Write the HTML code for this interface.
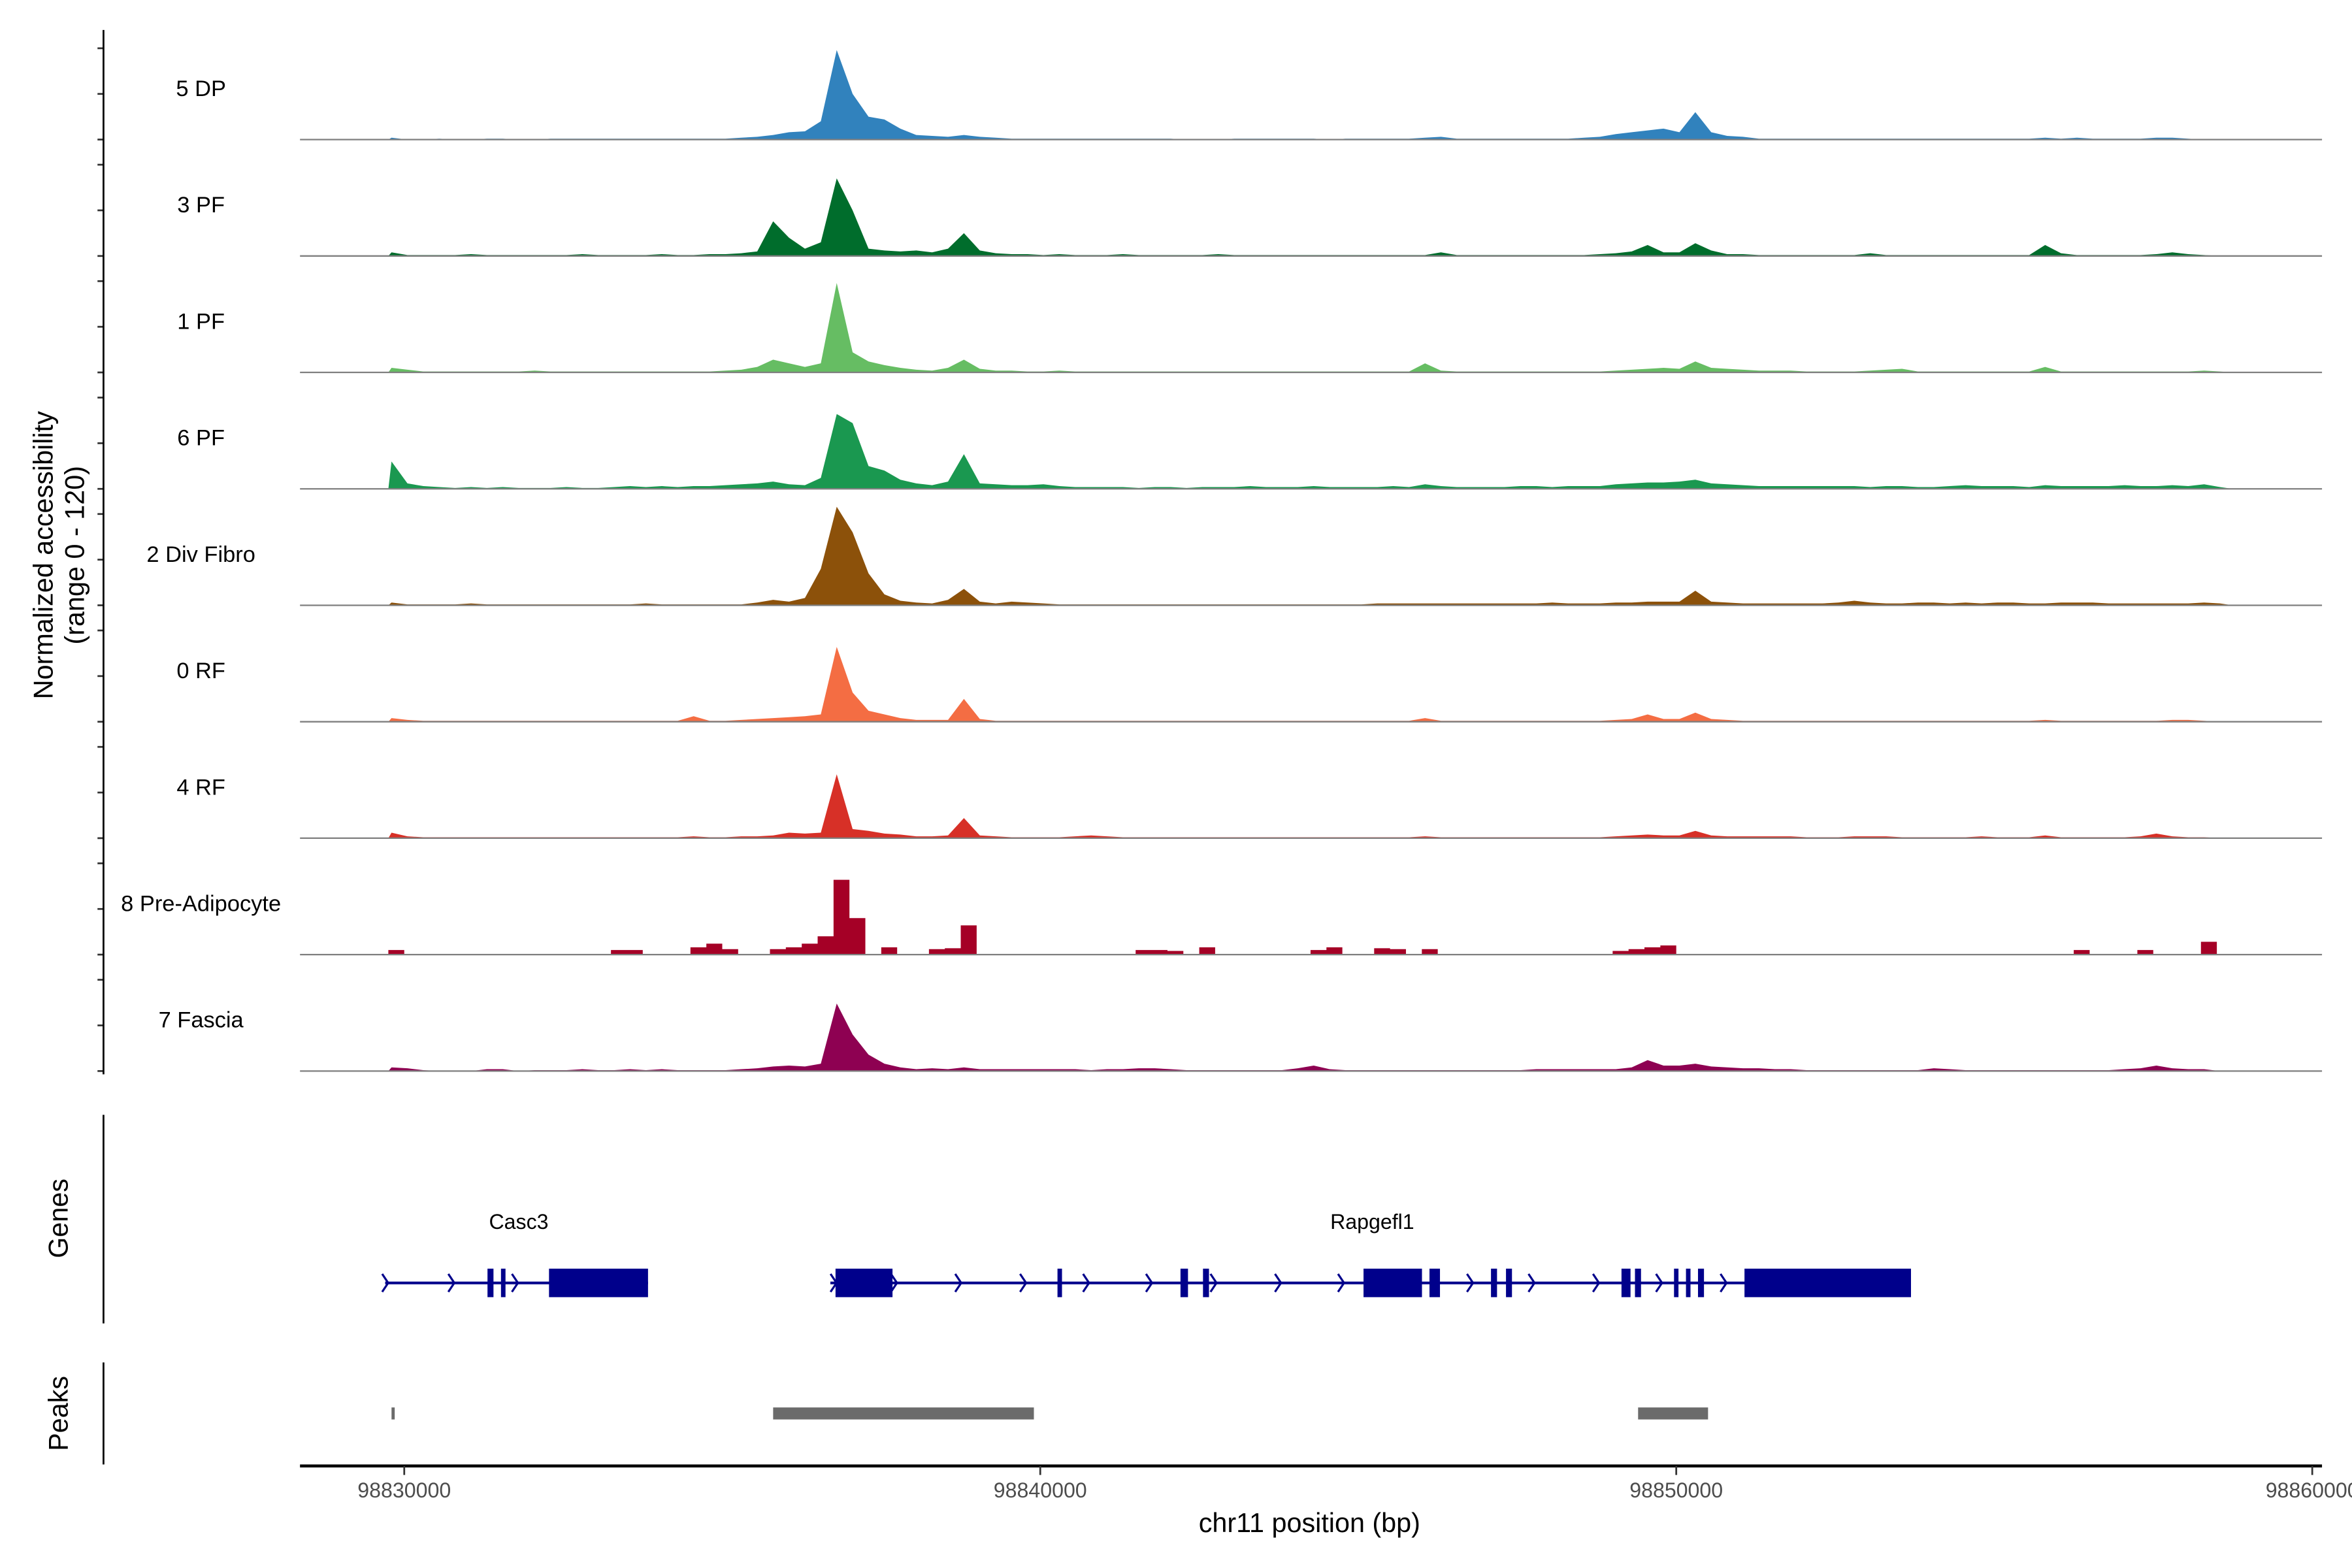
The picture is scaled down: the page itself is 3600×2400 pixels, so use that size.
<!DOCTYPE html>
<html><head><meta charset="utf-8"><style>
html,body{margin:0;padding:0;background:#fff;}
svg{display:block;font-family:"Liberation Sans",Arial,sans-serif;}
</style></head><body>
<svg id="chart" width="3600" height="2400" viewBox="0 0 1568 1045" preserveAspectRatio="none" xmlns="http://www.w3.org/2000/svg">
<rect width="1568" height="1045" fill="#fff"/>
<g id="tracks"></g>
<g id="yaxis"></g>
<text transform="translate(35,370) rotate(-90)" text-anchor="middle" font-size="18">Normalized accessibility</text>
<text transform="translate(56,370) rotate(-90)" text-anchor="middle" font-size="18">(range 0 - 120)</text>
<g id="genes"></g>
<line x1="69" y1="743" x2="69" y2="882" stroke="#000" stroke-width="1.2"/>
<text transform="translate(45,812) rotate(-90)" text-anchor="middle" font-size="18">Genes</text>
<g id="peaks"></g>
<line x1="69" y1="908" x2="69" y2="976" stroke="#000" stroke-width="1.2"/>
<text transform="translate(45,942) rotate(-90)" text-anchor="middle" font-size="18">Peaks</text>
<g id="xaxis"></g>
<text x="873" y="1021" text-anchor="middle" font-size="18">chr11 position (bp)</text>
</svg>
<script>
const trackNames = ["5 DP","3 PF","1 PF","6 PF","2 Div Fibro","0 RF","4 RF","8 Pre-Adipocyte","7 Fascia"];
const trackColors = ["#3182bd","#006d2c","#66bd63","#1a9850","#8c510a","#f46d43","#d73027","#a50026","#8e0152"];
const binStart = 98829750;
const binSize = 250;
const dp5 = [2,0,0,1,0,0,1,1,0,0, 1,1,1,1,1,1,1,1,1,1, 1,1,2,3,5,8,9,20,98,50, 25,22,12,5,4,3,5,3,2,1, 1,1,1,1,1,1,1,1,1,1, 0,0,0,1,1,1,1,1,1,0, 1,1,1,1,1,2,3,1,1,1, 1,1,1,1,1,2,3,6,8,10, 12,8,30,8,4,3,1,1,1,1, 1,1,1,1,1,1,1,1,1,1, 1,1,1,1,2,1,2,1,1,1, 1,2,2,1,0,0];
const pf3 = [4,1,1,1,1,2,1,1,1,1, 1,1,2,1,1,1,1,2,1,1, 2,2,3,5,38,20,8,15,85,50, 8,6,5,6,4,8,25,6,3,2, 2,1,2,1,1,1,2,1,1,1, 1,1,2,1,1,1,1,1,1,1, 1,1,1,1,1,1,4,1,1,1, 1,1,1,1,1,1,2,3,5,12, 4,4,14,6,2,2,1,1,1,1, 1,1,1,3,1,1,1,1,1,1, 1,1,1,1,12,3,1,1,1,1, 1,2,4,2,1,0];
const pf1 = [5,3,1,1,1,1,1,1,1,2, 1,1,1,1,1,1,1,1,1,1, 1,2,3,6,14,10,6,10,98,22, 12,8,5,3,2,5,14,4,2,2, 1,1,2,1,1,1,1,1,1,1, 1,1,1,1,1,1,1,1,1,1, 1,1,1,1,1,10,2,1,1,1, 1,1,1,1,1,1,1,2,3,4, 5,4,12,5,4,3,2,2,2,1, 1,1,1,2,3,4,1,1,1,1, 1,1,1,1,6,1,1,1,1,1, 1,1,1,1,2,1];
const pf6 = [30,6,3,2,1,2,1,2,1,1, 1,2,1,1,2,3,2,3,2,3, 3,4,5,6,8,5,4,12,82,72, 25,20,10,6,4,8,38,6,5,4, 4,5,3,2,2,2,2,1,2,2, 1,2,2,2,3,2,2,2,3,2, 2,2,2,3,2,5,3,2,2,2, 2,3,3,2,3,3,3,5,6,7, 7,8,10,6,5,4,3,3,3,3, 3,3,3,2,3,3,2,2,3,4, 3,3,3,2,4,3,3,3,3,4, 3,3,4,3,5,2];
const divFibro2 = [3,1,1,1,1,2,1,1,1,1, 1,1,1,1,1,1,2,1,1,1, 1,1,1,3,6,4,8,40,108,80, 35,12,5,3,2,6,18,4,2,4, 3,2,1,1,1,1,1,1,1,1, 1,1,1,1,1,1,1,1,1,1, 1,1,2,2,2,2,2,2,2,2, 2,2,2,3,2,2,2,3,3,4, 4,4,16,4,3,2,2,2,2,2, 2,3,5,3,2,2,3,3,2,3, 2,3,3,2,2,3,3,3,2,2, 2,2,2,2,3,2];
const rf0 = [4,2,1,1,1,1,1,1,1,1, 1,1,1,1,1,1,1,1,1,6, 1,1,2,3,4,5,6,8,82,32, 12,8,4,2,2,2,25,3,1,1, 1,1,1,1,1,1,1,1,1,1, 1,1,1,1,1,1,1,1,1,1, 1,1,1,1,1,4,1,1,1,1, 1,1,1,1,1,1,1,2,3,8, 3,3,10,3,2,1,1,1,1,1, 1,1,1,1,1,1,1,1,1,1, 1,1,1,1,2,1,1,1,1,1, 1,1,2,2,1,0];
const rf4 = [6,2,1,1,1,1,1,1,1,1, 1,1,1,1,1,1,1,1,1,2, 1,1,2,2,3,6,5,6,70,10, 8,5,4,2,2,3,22,3,2,1, 1,1,1,2,3,2,1,1,1,1, 1,1,1,1,1,1,1,1,1,1, 1,1,1,1,1,2,1,1,1,1, 1,1,1,1,1,1,1,2,3,4, 3,3,8,3,2,2,2,2,2,1, 1,1,2,2,2,1,1,1,1,1, 2,1,1,1,3,1,1,1,1,1, 2,5,2,1,1,0];
const preAdipocyte8 = [5,0,0,0,0,0,0,0,0,0, 0,0,0,0,5,5,0,0,0,8, 12,6,0,0,6,8,12,20,82,40, 0,8,0,0,6,7,32,0,0,0, 0,0,0,0,0,0,0,5,5,4, 0,8,0,0,0,0,0,0,5,8, 0,0,7,6,0,6,0,0,0,0, 0,0,0,0,0,0,0,4,6,8, 10,0,0,0,0,0,0,0,0,0, 0,0,0,0,0,0,0,0,0,0, 0,0,0,0,0,0,5,0,0,0, 5,0,0,0,14,0];
const fascia7 = [4,3,1,0,0,0,2,2,0,1, 1,1,2,1,1,2,1,2,1,1, 1,1,2,3,5,6,5,8,74,40, 18,8,4,2,3,2,4,2,2,2, 2,2,2,2,1,2,2,3,3,2, 1,1,1,1,1,1,1,3,6,2, 1,1,1,1,1,1,1,1,1,1, 1,1,2,2,2,2,2,2,4,12, 6,6,8,5,4,3,3,2,2,1, 1,1,1,1,1,1,1,3,2,1, 1,1,1,1,1,1,1,1,1,2, 3,6,3,2,2,0];
const trackValues = [dp5,pf3,pf1,pf6,divFibro2,rf0,rf4,preAdipocyte8,fascia7];
const xTicks = [98830000,98840000,98850000,98860000];
const xTickLabels = ["98830000","98840000","98850000","98860000"];
const yTicks = [0,50,100];
const peakStarts = [98829800,98835800,98849400];
const peakEnds = [98829850,98839900,98850500];
const geneNames = ["Casc3","Rapgefl1"];
const geneStarts = [98829700,98836700];
const geneEnds = [98833833,98853691];
const geneLabelPos = [98831800,98845220];
const exonStarts = [98831309,98831521,98832276,98836781,98840271,98842205,98842559,98845083,98846120,98847087,98847323,98849139,98849351,98849965,98850153,98850342,98851073];
const exonEnds = [98831403,98831592,98833833,98837677,98840342,98842323,98842653,98846002,98846285,98847182,98847417,98849281,98849446,98850035,98850224,98850436,98853691];
const arrowPos = [98829700,98830740,98831740,98836750,98837700,98838710,98839730,98840720,98841710,98842724,98843738,98844729,98846757,98847724,98848738,98849729,98850743];

const SVGNS="http://www.w3.org/2000/svg";
function X(bp){return 269.5+(bp-98830000)*0.0424;}
const unitPx = 73/120;
function base(i){return 93+77.6*i;}
function mk(tag,attrs,parent){const e=document.createElementNS(SVGNS,tag);for(const k in attrs)e.setAttribute(k,attrs[k]);parent.appendChild(e);return e;}

const tg=document.getElementById('tracks');
const ya=document.getElementById('yaxis');
trackNames.forEach((nm,i)=>{
  const b=base(i);
  const vals=trackValues[i];
  const stepped = (i===7);
  let d="M"+X(binStart).toFixed(2)+","+b;
  vals.forEach((v,j)=>{
    const y=b-v*unitPx;
    if(stepped){
      const x0=X(binStart+j*binSize), x1=X(binStart+(j+1)*binSize);
      d+=" L"+x0.toFixed(2)+","+y.toFixed(2)+" L"+x1.toFixed(2)+","+y.toFixed(2);
    } else {
      const xc=X(binStart+(j+0.2)*binSize);
      d+=" L"+xc.toFixed(2)+","+y.toFixed(2);
    }
  });
  d+=" L"+X(binStart+vals.length*binSize).toFixed(2)+","+b+" Z";
  const p=mk('path',{d:d,fill:trackColors[i]},tg);
  
  
  const bl=mk('line',{x1:200,y1:b,x2:1548,y2:b,stroke:'#7f7f7f','stroke-width':1},tg);
  
  
  const t=mk('text',{x:134,y:(b-29).toFixed(1),'text-anchor':'middle','font-size':15},tg);
  t.textContent=nm;
  
  
  yTicks.forEach(v=>{
    const y=b-v*unitPx;
    const tk=mk('line',{x1:65,y1:y,x2:69,y2:y,stroke:'#333','stroke-width':1.2},ya);
    
    
  });
});
const yl=mk('line',{x1:69,y1:20,x2:69,y2:716,stroke:'#000','stroke-width':1.2},ya);



const gg=document.getElementById('genes');
geneNames.forEach((g,i)=>{
  const l=mk('line',{x1:X(geneStarts[i]),y1:855,x2:X(geneEnds[i]),y2:855,stroke:'#00008b','stroke-width':1.8},gg);
  
  
  const t=mk('text',{x:X(geneLabelPos[i]),y:819,'text-anchor':'middle','font-size':14},gg);
  t.textContent=g;
  
  
});
arrowPos.forEach(a=>{
  const x=X(a);
  const p=mk('path',{d:`M${x-2},849 L${x+2},855 L${x-2},861`,fill:'none',stroke:'#00008b','stroke-width':1.4},gg);
  
  
});
exonStarts.forEach((s,i)=>{
  const x0=X(s),x1=X(exonEnds[i]);
  const r=mk('rect',{x:x0,y:845.5,width:Math.max(1.5,x1-x0),height:19,fill:'#00008b'},gg);
  
  
});

const pg=document.getElementById('peaks');
peakStarts.forEach((s,i)=>{
  const x0=X(s),x1=X(peakEnds[i]);
  const r=mk('rect',{x:x0,y:938,width:Math.max(2,x1-x0),height:8,fill:'#6b6b6b'},pg);
  
  
});

const xa=document.getElementById('xaxis');
const xl=mk('line',{x1:200,y1:977,x2:1548,y2:977,stroke:'#000','stroke-width':2},xa);


xTicks.forEach((t,i)=>{
  const x=X(t);
  const tk=mk('line',{x1:x,y1:977,x2:x,y2:983,stroke:'#333','stroke-width':1.2},xa);
  
  
  const lb=mk('text',{x:x,y:998,'text-anchor':'middle','font-size':14,fill:'#4d4d4d'},xa);
  lb.textContent=xTickLabels[i];
  
  
});
</script>
</body></html>
